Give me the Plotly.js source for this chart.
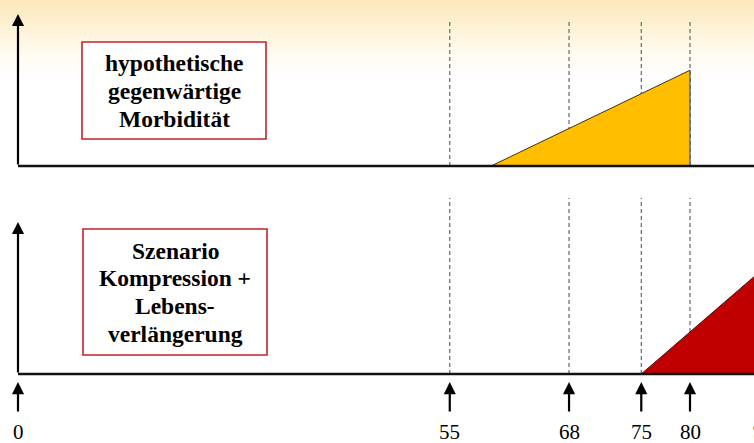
<!DOCTYPE html>
<html>
<head>
<meta charset="utf-8">
<script src="https://cdn.plot.ly/plotly-3.0.1.min.js"></script>
<style>
  html, body { margin: 0; padding: 0; background: #ffffff; }
  #chart {
    width: 754px; height: 443px;
    background: linear-gradient(to bottom, #FCE8BC 0px, #FEF3D8 30px, #FFFBF1 55px, #FFFFFF 80px);
  }
</style>
</head>
<body>
<div id="chart"></div>
<script>
// ---- data ----
const tickAges = [0, 55, 68, 75, 80];            // ages marked with arrows under the axis
const tickLabels = ['0', '55', '68', '75', '80'];
const axisPos = [0, 51.4, 65.6, 74.2, 80];       // schematic (non-linear) position of each marked age on the drawn axis
const dashedAges = [55, 68, 75, 80];             // dashed guide lines
const cutLabel = '90';                           // label cut off at the right edge

// top panel: hypothetical current morbidity
const yellowAges = [59.5, 80, 80];
const yellowMorb = [0, 63, 0];
// bottom panel: compression + life extension scenario
const redAges = [75, 90, 90];
const redMorb = [0, 83, 0];

const topBoxLines = ['hypothetische', 'gegenwärtige', 'Morbidität'];
const bottomBoxLines = ['Szenario', 'Kompression +', 'Lebens-', 'verlängerung'];

// ---- mapping age -> schematic axis position (piecewise linear) ----
function pos(age) {
  const n = tickAges.length;
  for (let i = 0; i < n - 1; i++) {
    if (age <= tickAges[i + 1]) {
      const t = (age - tickAges[i]) / (tickAges[i + 1] - tickAges[i]);
      return axisPos[i] + t * (axisPos[i + 1] - axisPos[i]);
    }
  }
  const s = (axisPos[n - 1] - axisPos[n - 2]) / (tickAges[n - 1] - tickAges[n - 2]);
  return axisPos[n - 1] + (age - tickAges[n - 1]) * s;
}

const W = 754, H = 443;
const serif = '"Liberation Serif", serif';
const xRange = [-2.1429, 87.619];
const axisTop = 100;

const traces = [
  {
    x: yellowAges.map(pos), y: yellowMorb, xaxis: 'x', yaxis: 'y',
    type: 'scatter', mode: 'lines', fill: 'toself',
    fillcolor: '#FFBF00', line: { color: '#333333', width: 1 }, hoverinfo: 'skip'
  },
  {
    x: redAges.map(pos), y: redMorb, xaxis: 'x', yaxis: 'y2',
    type: 'scatter', mode: 'lines', fill: 'toself',
    fillcolor: '#C00000', line: { color: '#222222', width: 1 }, hoverinfo: 'skip'
  }
];

const shapes = [];
// dashed guide lines
dashedAges.forEach(a => {
  shapes.push({ type: 'line', xref: 'x', yref: 'y', x0: pos(a), x1: pos(a), y0: 0, y1: 94.7,
    line: { color: '#666666', width: 1.2, dash: '4px,3px' }, layer: 'below' });
  shapes.push({ type: 'line', xref: 'x', yref: 'y2', x0: pos(a), x1: pos(a), y0: 0, y1: 115.8,
    line: { color: '#666666', width: 1.2, dash: '4px,3px' }, layer: 'below' });
});
// baselines
['y', 'y2'].forEach(yr => {
  shapes.push({ type: 'line', xref: 'x', yref: yr, x0: 0, x1: xRange[1] + 1, y0: 0, y1: 0,
    line: { color: '#111111', width: 2.5 }, layer: 'above' });
});

const annotations = [];
// y-axis arrows
['y', 'y2'].forEach(yr => {
  annotations.push({ xref: 'x', yref: yr, axref: 'x', ayref: yr, x: 0, y: axisTop, ax: 0, ay: 0,
    text: '', showarrow: true, arrowhead: 2, arrowsize: 1.1, arrowwidth: 2.2, arrowcolor: '#000000', standoff: 0 });
});
// age arrows and labels
tickAges.forEach((a, i) => {
  annotations.push({ xref: 'x', yref: 'y2', axref: 'x', ayref: 'y2', x: pos(a), y: -5.3, ax: pos(a), ay: -25.7,
    text: '', showarrow: true, arrowhead: 2, arrowsize: 1.1, arrowwidth: 2.2, arrowcolor: '#000000', standoff: 0 });
  annotations.push({ xref: 'x', yref: 'y2', x: pos(a), y: -38.2, text: tickLabels[i], showarrow: false,
    font: { family: serif, size: 21, color: '#000000' }, xanchor: 'center', yanchor: 'middle' });
});
annotations.push({ xref: 'paper', yref: 'y2', x: 0.9965, y: -37.5, text: cutLabel, showarrow: false,
  font: { family: serif, size: 21, color: '#000000' }, xanchor: 'left', yanchor: 'middle' });

// text boxes: frame as a shape, each line as its own text (line spacing ~28px)
function textBox(x0, x1, y0, y1, lines, firstY, step) {
  shapes.push({ type: 'rect', xref: 'paper', yref: 'paper',
    x0: x0 / W, x1: x1 / W, y0: 1 - y1 / H, y1: 1 - y0 / H,
    fillcolor: '#FFFFFF', line: { color: '#C8202A', width: 1.6 }, layer: 'above' });
  const cx = (x0 + x1) / 2 / W;
  lines.forEach((t, i) => {
    annotations.push({ xref: 'paper', yref: 'paper', x: cx, y: 1 - (firstY + i * step) / H,
      xanchor: 'center', yanchor: 'middle', text: '<b>' + t + '</b>', showarrow: false,
      font: { family: serif, size: 23.5, color: '#000000' } });
  });
}
textBox(82, 266, 42, 139, topBoxLines, 63, 28);
textBox(83, 267, 229, 355, bottomBoxLines, 250.5, 27.7);

const hiddenAxis = { showgrid: false, zeroline: false, showticklabels: false, ticks: '', showline: false, fixedrange: true };

const layout = {
  width: W, height: H,
  margin: { l: 0, r: 0, t: 0, b: 0, pad: 0 },
  paper_bgcolor: 'rgba(0,0,0,0)', plot_bgcolor: 'rgba(0,0,0,0)',
  showlegend: false,
  xaxis: Object.assign({}, hiddenAxis, { range: xRange, domain: [0, 1], anchor: 'y2' }),
  yaxis: Object.assign({}, hiddenAxis, { range: [-12.5, 109.21], domain: [0.58239, 1], anchor: 'x' }),
  yaxis2: Object.assign({}, hiddenAxis, { range: [-45.39, 124.34], domain: [0, 0.58239], anchor: 'x' }),
  shapes: shapes,
  annotations: annotations
};

Plotly.newPlot('chart', traces, layout, { staticPlot: true, displayModeBar: false });
</script>
</body>
</html>
